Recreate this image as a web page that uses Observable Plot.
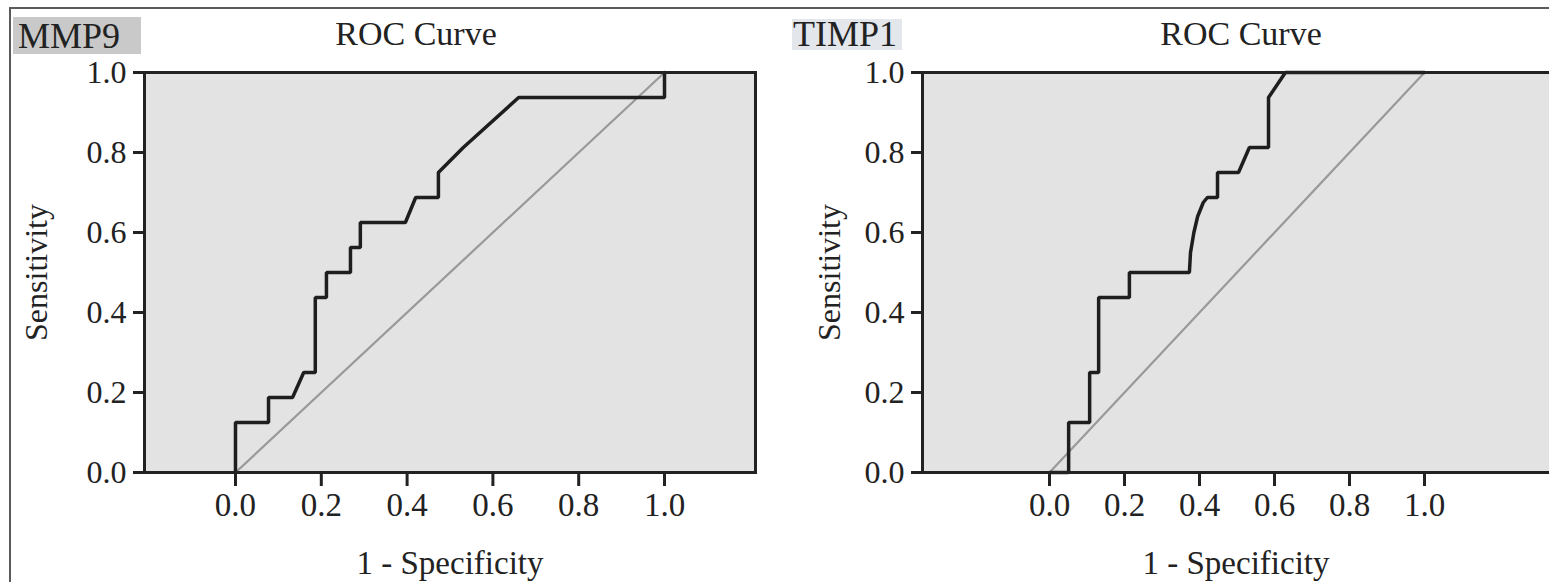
<!DOCTYPE html>
<html>
<head>
<meta charset="utf-8">
<script src="https://cdn.jsdelivr.net/npm/d3@7"></script>
<script src="https://cdn.jsdelivr.net/npm/@observablehq/plot@0.6"></script>
<style>
  html, body { margin: 0; padding: 0; background: #fff; }
  #page { position: relative; width: 1549px; height: 582px; overflow: hidden; background: #fff;
          font-family: "Liberation Serif", "Times New Roman", serif; color: #222; }
  #border { position: absolute; left: 9px; top: 7px; right: -4px; bottom: -4px;
            border-top: 2px solid #5a5a5a; border-left: 2px solid #5a5a5a; }
  .panel { position: absolute; top: 0; }
  .tag { position: absolute; }
  .tag span { position: absolute; font-size: 36px; line-height: 31px; white-space: nowrap; }
  .title { position: absolute; font-size: 34px; line-height: 1; white-space: nowrap; transform: translateX(-50%); }
</style>
</head>
<body>
<div id="page">
  <div id="border"></div>
  <div id="left" class="panel" style="left:0px"></div>
  <div id="right" class="panel" style="left:775px"></div>
  <div class="tag" style="left:13px; top:17px; width:128px; height:37px; background:#c9c9c9;"><span style="left:5px; top:4px;">MMP9</span></div>
  <div class="tag" style="left:792px; top:19px; width:110px; height:31px; background:#e3e6ea;"><span style="left:1px; top:0px;">TIMP1</span></div>
  <div class="title" style="left:416px; top:17px;">ROC Curve</div>
  <div class="title" style="left:1241px; top:17px;">ROC Curve</div>
</div>
<script>
// ---- data ----
const panels = ["MMP9", "TIMP1"];
const titleText = "ROC Curve";
const xLabel = "1 - Specificity";
const yLabel = "Sensitivity";
const xTicks = [0, 0.2, 0.4, 0.6, 0.8, 1.0];
const yTicks = [0, 0.2, 0.4, 0.6, 0.8, 1.0];

// reference (chance) line
const refFPR = [0, 1];
const refSens = [0, 1];

// MMP9 ROC curve
const mmp9FPR  = [0, 0, 0.077, 0.077, 0.133, 0.159, 0.186, 0.186, 0.212, 0.212, 0.268, 0.268, 0.291, 0.291, 0.396, 0.42, 0.473, 0.473, 0.531, 0.66, 1, 1];
const mmp9Sens = [0, 0.125, 0.125, 0.1875, 0.1875, 0.25, 0.25, 0.4375, 0.4375, 0.5, 0.5, 0.5625, 0.5625, 0.625, 0.625, 0.6875, 0.6875, 0.75, 0.8125, 0.9375, 0.9375, 1];

// TIMP1 ROC curve
const timp1FPR  = [0, 0.051, 0.051, 0.107, 0.107, 0.131, 0.131, 0.213, 0.213, 0.373, 0.376, 0.385, 0.395, 0.41, 0.421, 0.448, 0.448, 0.504, 0.533, 0.584, 0.584, 0.629, 1];
const timp1Sens = [0, 0, 0.125, 0.125, 0.25, 0.25, 0.4375, 0.4375, 0.5, 0.5, 0.55, 0.6, 0.64, 0.675, 0.6875, 0.6875, 0.75, 0.75, 0.8125, 0.8125, 0.9375, 1, 1];

const toRows = (xs, ys) => xs.map((x, i) => ({x, y: ys[i]}));
const ref = toRows(refFPR, refSens);
const mmp9 = toRows(mmp9FPR, mmp9Sens);
const timp1 = toRows(timp1FPR, timp1Sens);

const fmt = d3.format(".1f");
const ink = "#222";
const bg = "#e3e3e3";

function panel({width, marginLeft, marginRight, xDomain, curve, closedRight, yLabelOffset}) {
  const edge = closedRight
    ? [Plot.frame({stroke: ink, strokeWidth: 3})]
    : [Plot.ruleY([0, 1], {stroke: ink, strokeWidth: 3}),
       Plot.ruleX([xDomain[0]], {stroke: ink, strokeWidth: 3})];
  return Plot.plot({
    width, height: 582,
    marginTop: 72, marginBottom: 110, marginLeft, marginRight,
    x: {domain: xDomain},
    y: {domain: [0, 1]},
    style: {fontFamily: "Liberation Serif, Times New Roman, serif", color: ink, background: "transparent", overflow: "visible"},
    marks: [
      Plot.frame({fill: bg, stroke: null}),
      Plot.line(ref, {x: "x", y: "y", stroke: "#999", strokeWidth: 2.2}),
      Plot.line(curve, {x: "x", y: "y", stroke: "#1e1e1e", strokeWidth: 3.5, strokeLinejoin: "miter"}),
      ...edge,
      Plot.axisX({ticks: xTicks, tickFormat: fmt, tickSize: 14, tickPadding: 6, strokeWidth: 3, stroke: ink,
                  fontSize: 33, label: xLabel, labelAnchor: "center", labelOffset: 101, labelArrow: "none"}),
      Plot.axisY({ticks: yTicks, tickFormat: fmt, tickSize: 11, tickPadding: 7, strokeWidth: 3, stroke: ink,
                  fontSize: 32, label: yLabel, labelAnchor: "center", labelOffset: yLabelOffset, labelArrow: "none"})
    ]
  });
}

document.getElementById("left").append(panel({
  width: 775, marginLeft: 144, marginRight: 20,
  xDomain: [-0.2121, 1.2121], curve: mmp9, closedRight: true, yLabelOffset: 120
}));
document.getElementById("right").append(panel({
  width: 774, marginLeft: 147, marginRight: 0,
  xDomain: [-0.3387, 1.3333], curve: timp1, closedRight: false, yLabelOffset: 105
}));
</script>
</body>
</html>
